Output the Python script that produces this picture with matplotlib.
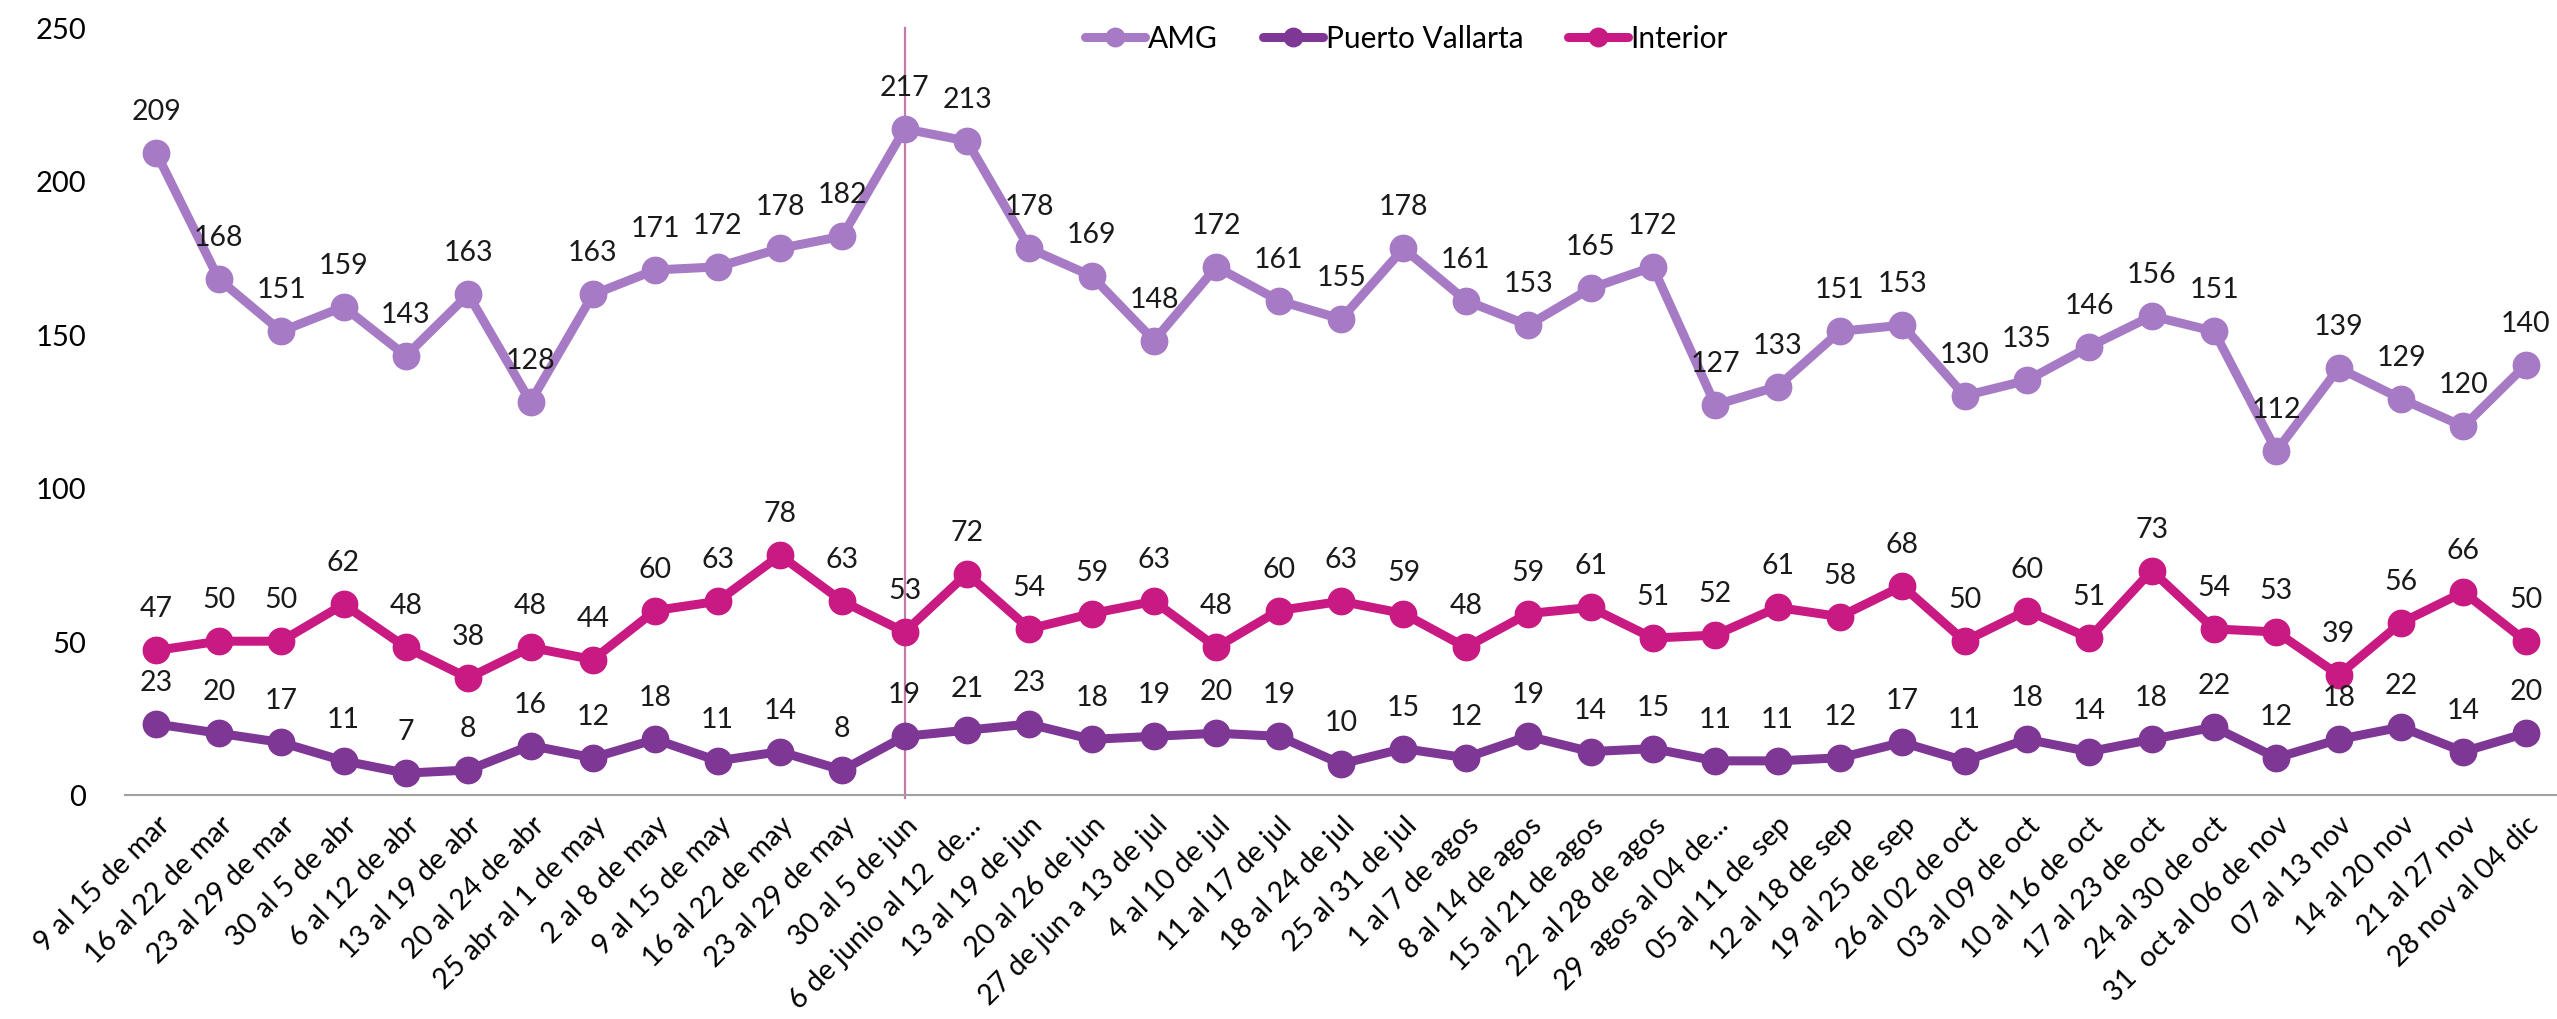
import numpy as np
import matplotlib
matplotlib.use("Agg")
import matplotlib.pyplot as plt

plt.rcParams['font.family'] = ['Lato', 'DejaVu Sans']

semanas = [
    "9 al 15 de mar", "16 al 22 de mar", "23 al 29 de mar", "30 al 5 de abr",
    "6 al 12 de abr", "13 al 19 de abr", "20 al 24 de abr", "25 abr al 1 de may",
    "2 al 8 de may", "9 al 15 de may", "16 al 22 de may", "23 al 29 de may",
    "30 al 5 de jun", "6 de junio al 12  de...", "13 al 19 de jun", "20 al 26 de jun",
    "27 de jun a 13 de jul", "4 al 10 de jul", "11 al 17 de jul", "18 al 24 de jul",
    "25 al 31 de jul", "1 al 7 de agos", "8 al 14 de agos", "15 al 21 de agos",
    "22  al 28 de agos", "29  agos al 04 de...", "05 al 11 de sep", "12 al 18 de sep",
    "19 al 25 de sep", "26 al 02 de oct", "03 al 09 de oct", "10 al 16 de oct",
    "17 al 23 de oct", "24 al 30 de oct", "31  oct al 06 de nov", "07 al 13 nov",
    "14 al 20 nov", "21 al 27 nov", "28 nov al 04 dic",
]

amg = [209, 168, 151, 159, 143, 163, 128, 163, 171, 172, 178, 182, 217, 213,
       178, 169, 148, 172, 161, 155, 178, 161, 153, 165, 172, 127, 133, 151,
       153, 130, 135, 146, 156, 151, 112, 139, 129, 120, 140]

puerto_vallarta = [23, 20, 17, 11, 7, 8, 16, 12, 18, 11, 14, 8, 19, 21, 23,
                   18, 19, 20, 19, 10, 15, 12, 19, 14, 15, 11, 11, 12, 17, 11,
                   18, 14, 18, 22, 12, 18, 22, 14, 20]

interior = [47, 50, 50, 62, 48, 38, 48, 44, 60, 63, 78, 63, 53, 72, 54, 59,
            63, 48, 60, 63, 59, 48, 59, 61, 51, 52, 61, 58, 68, 50, 60, 51,
            73, 54, 53, 39, 56, 66, 50]

series = [
    ("AMG", amg, "#A67AC4"),
    ("Puerto Vallarta", puerto_vallarta, "#7E3795"),
    ("Interior", interior, "#C81A82"),
]

fig = plt.figure(figsize=(25.57, 10.20), dpi=100)
ax = fig.add_axes([0.049, 0.22, 0.951, 0.752])

x = np.arange(len(semanas))
for name, vals, col in series:
    ax.plot(x, vals, color=col, lw=6.5, marker='o', markersize=19,
            label=name, solid_capstyle='round')
    for xi, v in zip(x, vals):
        ax.annotate(str(v), (xi, v), xytext=(0, 42), textcoords='offset pixels',
                    ha='center', va='center', fontsize=20.5, color='#1a1a1a')

ax.axvline(12, ymin=-0.004, ymax=1, color='#C77AAA', lw=1.6, clip_on=False, zorder=0)

ax.set_xlim(-0.5, len(semanas) - 0.5)
ax.set_ylim(0, 250)
ax.set_yticks([0, 50, 100, 150, 200, 250])
ax.set_xticks(x)
ax.set_xticklabels(semanas, rotation=45, ha='right', rotation_mode='anchor',
                   fontsize=20.5)
ax.tick_params(axis='y', length=0, pad=28, labelsize=21)
ax.tick_params(axis='x', length=0, pad=12)

for s in ['top', 'right', 'left']:
    ax.spines[s].set_visible(False)
ax.spines['bottom'].set_color('#A0A0A0')
ax.spines['bottom'].set_linewidth(1.5)

leg = ax.legend(loc='center', bbox_to_anchor=(0.527, 0.986), ncol=3,
                frameon=False, fontsize=21.5, markerscale=0.7,
                handlelength=2.0, handletextpad=0.1, columnspacing=1.5)

fig.savefig("out.png", dpi=100)
